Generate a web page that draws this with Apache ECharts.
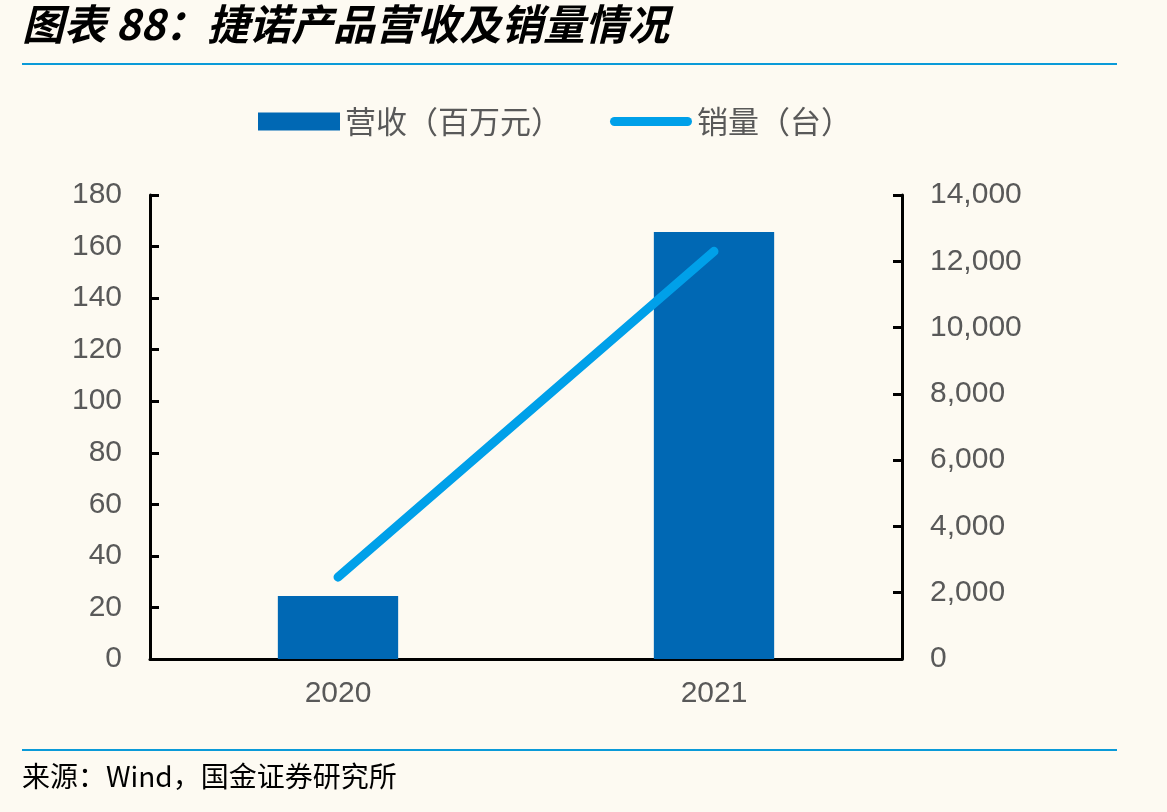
<!DOCTYPE html>
<html>
<head>
<meta charset="utf-8">
<script src="https://cdn.jsdelivr.net/npm/echarts@6/dist/echarts.min.js"></script>
<style>
html,body{margin:0;padding:0;background:#fdfaf2;}
#main{width:1167px;height:812px;}
</style>
</head>
<body>
<div id="main"></div>
<script>
// 数据
var years = ['2020', '2021'];
var revenue = [24.4, 165.6];     // 营收（百万元）
var sales = [2470, 12300];       // 销量（台）
var leftTicks = [0, 180, 20];
var rightTicks = [0, 14000, 2000];

var myChart = echarts.init(document.getElementById('main'));

function addCommas(v) {
	return String(v).replace(/\B(?=(\d{3})+(?!\d))/g, ',');
}

var labelFont = 'Liberation Sans, Arial, sans-serif';
var cjkFont = 'Noto Sans CJK SC, sans-serif';

option = {
	backgroundColor: '#fdfaf2',
	animation: false,
	graphic: [
		{
			type: 'text', left: 22, top: 3,
			style: { text: '图表 88：捷诺产品营收及销量情况', font: 'italic bold 42px ' + cjkFont, fill: '#000' }
		},
		{ type: 'rect', shape: { x: 22, y: 63, width: 1095, height: 2 }, style: { fill: '#0a9ad8' } },
		{ type: 'rect', shape: { x: 22, y: 749, width: 1095, height: 2 }, style: { fill: '#0a9ad8' } },
		{
			type: 'text', left: 22, top: 762,
			style: { text: '来源：Wind，国金证券研究所', font: '28px ' + cjkFont, fill: '#000' }
		}
	],
	legend: {
		left: 253,
		top: 101,
		itemWidth: 82,
		itemHeight: 18,
		itemGap: 48,
		textStyle: { fontSize: 31, color: '#595959', fontFamily: cjkFont },
		data: [
			{ name: '营收（百万元）', icon: 'rect' },
			{ name: '销量（台）', icon: 'path://M4.5,0 L77.5,0 A4.5,4.5 0 0 1 77.5,9 L4.5,9 A4.5,4.5 0 0 1 4.5,0 Z' }
		]
	},
	grid: { left: 150, right: 265, top: 195, bottom: 153 },
	xAxis: {
		type: 'category',
		data: years,
		boundaryGap: true,
		axisLine: { lineStyle: { color: '#000', width: 3 } },
		axisTick: { inside: true, length: 8, lineStyle: { color: '#000', width: 3 } },
		axisLabel: { fontSize: 30, color: '#595959', fontFamily: labelFont, margin: 20 }
	},
	yAxis: [
		{
			type: 'value',
			min: leftTicks[0], max: leftTicks[1], interval: leftTicks[2],
			splitLine: { show: false },
			axisLine: { show: true, lineStyle: { color: '#000', width: 3 } },
			axisTick: { show: true, inside: true, length: 9, lineStyle: { color: '#000', width: 3 } },
			axisLabel: { fontSize: 30, color: '#595959', fontFamily: labelFont, margin: 28 }
		},
		{
			type: 'value',
			position: 'right',
			min: rightTicks[0], max: rightTicks[1], interval: rightTicks[2],
			splitLine: { show: false },
			axisLine: { show: true, lineStyle: { color: '#000', width: 3 } },
			axisTick: { show: true, inside: true, length: 9, lineStyle: { color: '#000', width: 3 } },
			axisLabel: { fontSize: 30, color: '#595959', fontFamily: labelFont, margin: 28, formatter: addCommas }
		}
	],
	series: [
		{
			name: '营收（百万元）',
			type: 'bar',
			data: revenue,
			barWidth: '32%',
			itemStyle: { color: '#0068b4' }
		},
		{
			name: '销量（台）',
			type: 'line',
			yAxisIndex: 1,
			data: sales,
			symbol: 'none',
			lineStyle: { color: '#00a0e9', width: 9, cap: 'round' },
			itemStyle: { color: '#00a0e9' }
		}
	]
};
myChart.setOption(option);
</script>
</body>
</html>
